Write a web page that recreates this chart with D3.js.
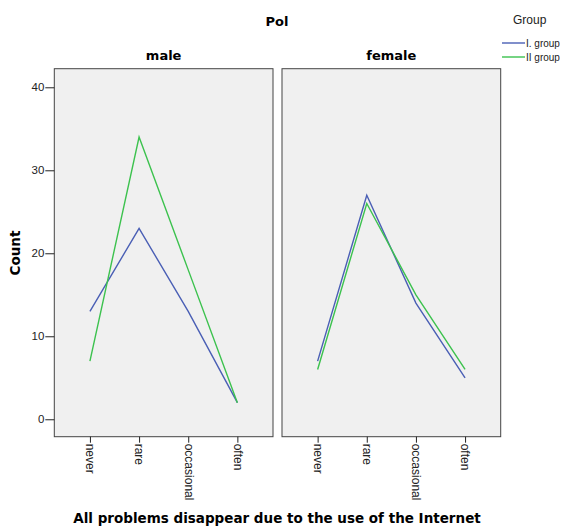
<!DOCTYPE html>
<html>
<head>
<meta charset="utf-8">
<script src="https://cdn.jsdelivr.net/npm/d3@7"></script>
<style>
  body { margin: 0; background: #fff; }
  svg { display: block; }
</style>
</head>
<body>
<svg id="chart" width="566" height="526"></svg>
<script>
// values
let panels = ["male", "female"]
let answers = ["never", "rare", "occasional", "often"]
let groups = ["I. group", "II group"]
let colors = ["#4a5fb5", "#3cc24e"]
let maleI = [13, 23, 13, 2]
let maleII = [7, 34, 18, 2]
let femaleI = [7, 27, 14, 5]
let femaleII = [6, 26, 15, 6]
let yTicks = [0, 10, 20, 30, 40]

let counts = {
  male: [maleI, maleII],
  female: [femaleI, femaleII]
}

let svg = d3.select("#chart")
let plotTop = 68.7, plotBottom = 436.7

let panelScale = d3.scaleBand()
  .domain(panels)
  .range([54.3, 500.7])
  .paddingInner(0.0395)

let yScale = d3.scaleLinear()
  .domain([-2.1, 42.24])
  .range([plotBottom, plotTop])

let xScale = d3.scalePoint()
  .domain(answers)
  .range([0, panelScale.bandwidth()])
  .padding(0.725)

let line = d3.line()
  .x((d, i) => xScale(answers[i]))
  .y(d => yScale(d))

// chart title
svg.append("text")
  .attr("x", 277)
  .attr("y", 26)
  .attr("text-anchor", "middle")
  .style("font", "bold 13px 'DejaVu Sans', sans-serif")
  .text("Pol")

panels.forEach((p) => {
  let g = svg.append("g")
    .attr("transform", `translate(${panelScale(p)},0)`)

  g.append("rect")
    .attr("x", 0)
    .attr("y", plotTop)
    .attr("width", panelScale.bandwidth())
    .attr("height", plotBottom - plotTop)
    .attr("fill", "#f0f0f0")
    .attr("stroke", "#444")
    .attr("stroke-width", 1)

  g.append("text")
    .attr("x", panelScale.bandwidth() / 2)
    .attr("y", 60)
    .attr("text-anchor", "middle")
    .style("font", "bold 13px 'DejaVu Sans', sans-serif")
    .text(p)

  counts[p].forEach((vals, i) => {
    g.append("path")
      .datum(vals)
      .attr("d", line)
      .attr("fill", "none")
      .attr("stroke", colors[i])
      .attr("stroke-width", 1.4)
  })

  let xAxis = g.append("g")
    .attr("transform", `translate(0,${plotBottom})`)
    .call(d3.axisBottom(xScale).tickSize(6).tickSizeOuter(0))
  xAxis.select(".domain").remove()
  xAxis.selectAll("line").attr("stroke", "#222")
  xAxis.selectAll("text")
    .attr("transform", "rotate(90)")
    .attr("x", 7)
    .attr("y", 0)
    .attr("dy", "0.35em")
    .attr("text-anchor", "start")
    .attr("fill", "#222")
    .style("font", "12px 'Liberation Sans', Arial, sans-serif")
})

// y axis on the left panel
let yAxis = svg.append("g")
  .attr("transform", `translate(${panelScale("male")},0)`)
  .call(d3.axisLeft(yScale).tickValues(yTicks).tickSize(9).tickSizeOuter(0))
yAxis.select(".domain").remove()
yAxis.selectAll("line").attr("stroke", "#222")
yAxis.selectAll("text")
  .attr("x", -10)
  .attr("fill", "#222")
  .style("font", "11.5px 'Liberation Sans', Arial, sans-serif")

svg.append("text")
  .attr("transform", "translate(20,253) rotate(-90)")
  .attr("text-anchor", "middle")
  .style("font", "bold 13.5px 'DejaVu Sans', sans-serif")
  .text("Count")

svg.append("text")
  .attr("x", 277)
  .attr("y", 523)
  .attr("text-anchor", "middle")
  .style("font", "bold 13.5px 'DejaVu Sans', sans-serif")
  .text("All problems disappear due to the use of the Internet")

// legend
let legend = svg.append("g")
svg.append("text")
  .attr("x", 513)
  .attr("y", 24)
  .style("font", "12px 'Liberation Sans', Arial, sans-serif")
  .attr("fill", "#222")
  .text("Group")

groups.forEach((gname, i) => {
  let yy = 43 + i * 14
  legend.append("line")
    .attr("x1", 502).attr("x2", 525)
    .attr("y1", yy).attr("y2", yy)
    .attr("stroke", colors[i])
    .attr("stroke-width", 1.4)
  legend.append("text")
    .attr("x", 526)
    .attr("y", yy + 4)
    .style("font", "10px 'Liberation Sans', Arial, sans-serif")
    .attr("fill", "#222")
    .text(gname)
})
</script>
</body>
</html>
